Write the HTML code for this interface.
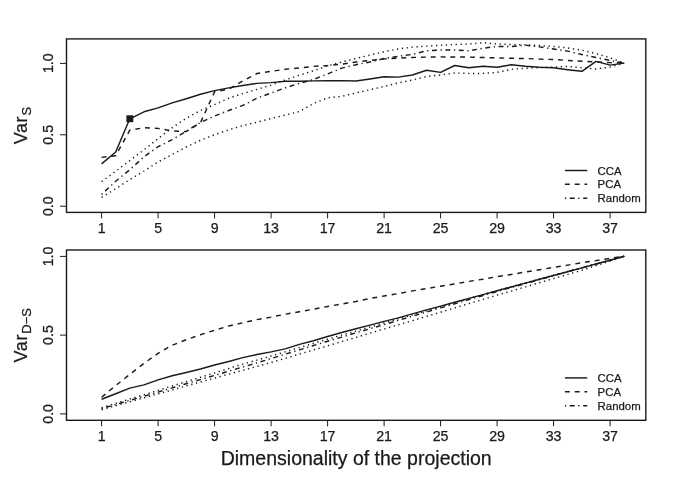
<!DOCTYPE html>
<html lang="en"><head><meta charset="utf-8"><title>Variance vs dimensionality of the projection</title>
<style>html,body{margin:0;padding:0;background:#fff;}body{width:685px;height:484px;overflow:hidden;position:relative;}</style>
</head><body>
<svg width="685" height="484" viewBox="0 0 685 484" style="display:block;position:absolute;left:0;top:0">
<rect width="685" height="484" fill="#fff"/>
<g fill="none" stroke="#1a1a1a" stroke-linejoin="round">
<path d="M101.6,181.7 L115.7,171.3 L129.8,160.6 L144.0,149.8 L158.1,138.6 L172.2,127.6 L186.3,118.2 L200.5,110.5 L214.6,104.6 L228.7,98.2 L242.8,93.6 L257.0,89.4 L271.1,85.1 L285.2,80.0 L299.4,75.2 L313.5,70.8 L327.6,65.8 L341.7,62.0 L355.9,58.6 L370.0,55.0 L384.1,51.7 L398.2,49.0 L412.4,47.1 L426.5,46.1 L440.6,45.2 L454.7,44.5 L468.9,44.0 L483.0,42.8 L497.1,44.0 L511.2,44.5 L525.4,44.9 L539.5,45.5 L553.6,46.5 L567.7,47.9 L581.9,50.2 L596.0,53.7 L610.1,57.8 L624.2,63.1" stroke-width="1.45" stroke-dasharray="1.3,3.6"/>
<path d="M101.6,197.4 L115.7,188.7 L129.8,179.6 L144.0,171.0 L158.1,162.0 L172.2,154.5 L186.3,147.0 L200.5,140.3 L214.6,134.7 L228.7,129.9 L242.8,125.6 L257.0,122.2 L271.1,118.5 L285.2,115.1 L299.4,111.5 L313.5,103.5 L327.6,97.8 L341.7,96.4 L355.9,92.9 L370.0,89.7 L384.1,86.5 L398.2,82.9 L412.4,80.0 L426.5,76.5 L440.6,75.0 L454.7,73.0 L468.9,73.4 L483.0,73.4 L497.1,72.4 L511.2,69.3 L525.4,68.2 L539.5,67.6 L553.6,67.2 L567.7,66.4 L581.9,67.8 L596.0,69.0 L610.1,67.1 L624.2,63.1" stroke-width="1.45" stroke-dasharray="1.3,3.6"/>
<path d="M101.6,194.5 L115.7,181.2 L129.8,169.7 L144.0,156.8 L158.1,146.7 L172.2,139.7 L186.3,131.2 L200.5,122.5 L214.6,116.0 L228.7,110.5 L242.8,105.4 L257.0,98.2 L271.1,93.0 L285.2,87.9 L299.4,83.3 L313.5,79.5 L327.6,73.9 L341.7,68.1 L355.9,64.7 L370.0,62.0 L384.1,58.5 L398.2,56.4 L412.4,54.4 L426.5,50.7 L440.6,50.0 L454.7,50.0 L468.9,50.9 L483.0,48.2 L497.1,46.5 L511.2,46.5 L525.4,45.1 L539.5,46.9 L553.6,49.0 L567.7,51.1 L581.9,54.5 L596.0,57.5 L610.1,60.5 L624.2,63.1" stroke-width="1.45" stroke-dasharray="1.3,3.6,4.9,3.6"/>
<path d="M101.6,157.4 L115.7,155.7 L129.8,130.2 L144.0,127.7 L158.1,128.4 L172.2,130.9 L186.3,131.5 L200.5,122.6 L214.6,91.7 L228.7,89.2 L242.8,80.9 L257.0,73.5 L271.1,71.4 L285.2,69.3 L299.4,67.9 L313.5,66.4 L327.6,65.5 L341.7,64.1 L355.9,62.0 L370.0,60.4 L384.1,58.9 L398.2,58.1 L412.4,57.5 L426.5,57.1 L440.6,56.9 L454.7,56.9 L468.9,57.1 L483.0,57.5 L497.1,57.9 L511.2,58.3 L525.4,58.5 L539.5,59.1 L553.6,59.5 L567.7,60.4 L581.9,61.3 L596.0,62.0 L610.1,62.6 L624.2,63.1" stroke-width="1.45" stroke-dasharray="4.9,4.9"/>
<path d="M101.6,163.9 L115.7,152.0 L129.8,118.8 L144.0,111.8 L158.1,107.9 L172.2,102.9 L186.3,98.7 L200.5,94.3 L214.6,90.6 L228.7,87.9 L242.8,85.5 L257.0,83.4 L271.1,82.6 L285.2,81.3 L299.4,81.3 L313.5,80.9 L327.6,80.8 L341.7,80.6 L355.9,81.0 L370.0,79.0 L384.1,76.7 L398.2,77.1 L412.4,75.0 L426.5,70.3 L440.6,72.4 L454.7,65.5 L468.9,67.8 L483.0,66.2 L497.1,67.2 L511.2,64.7 L525.4,66.2 L539.5,67.2 L553.6,67.8 L567.7,69.7 L581.9,71.3 L596.0,61.4 L610.1,65.1 L624.2,63.1" stroke-width="1.45"/>
<path d="M101.6,407.7 L115.7,403.4 L129.8,399.0 L144.0,394.7 L158.1,390.4 L172.2,386.0 L186.3,381.6 L200.5,377.3 L214.6,372.9 L228.7,368.5 L242.8,364.1 L257.0,360.1 L271.1,356.0 L285.2,351.9 L299.4,347.6 L313.5,343.4 L327.6,339.3 L341.7,335.1 L355.9,331.1 L370.0,327.0 L384.1,323.0 L398.2,318.9 L412.4,314.9 L426.5,310.8 L440.6,306.8 L454.7,302.7 L468.9,298.6 L483.0,294.6 L497.1,290.6 L511.2,286.7 L525.4,282.9 L539.5,279.0 L553.6,275.1 L567.7,271.3 L581.9,267.6 L596.0,263.8 L610.1,260.1 L624.2,256.3" stroke-width="1.45" stroke-dasharray="1.3,3.6"/>
<path d="M101.6,409.7 L115.7,405.7 L129.8,401.8 L144.0,397.8 L158.1,393.9 L172.2,389.9 L186.3,385.9 L200.5,382.0 L214.6,378.1 L228.7,374.2 L242.8,370.3 L257.0,366.4 L271.1,362.4 L285.2,358.4 L299.4,354.1 L313.5,349.9 L327.6,345.8 L341.7,341.6 L355.9,337.4 L370.0,333.2 L384.1,329.0 L398.2,324.8 L412.4,320.6 L426.5,316.4 L440.6,312.2 L454.7,307.9 L468.9,303.6 L483.0,299.4 L497.1,295.2 L511.2,291.1 L525.4,286.9 L539.5,282.7 L553.6,278.5 L567.7,274.4 L581.9,270.3 L596.0,265.6 L610.1,261.0 L624.2,256.3" stroke-width="1.45" stroke-dasharray="1.3,3.6"/>
<path d="M101.6,408.7 L115.7,404.5 L129.8,400.4 L144.0,396.2 L158.1,392.1 L172.2,387.9 L186.3,383.7 L200.5,379.6 L214.6,375.4 L228.7,371.2 L242.8,367.1 L257.0,362.9 L271.1,358.5 L285.2,354.2 L299.4,349.9 L313.5,345.5 L327.6,341.3 L341.7,337.1 L355.9,332.9 L370.0,328.8 L384.1,324.6 L398.2,320.4 L412.4,316.2 L426.5,312.0 L440.6,307.9 L454.7,303.8 L468.9,299.6 L483.0,295.5 L497.1,291.5 L511.2,287.5 L525.4,283.6 L539.5,279.6 L553.6,275.6 L567.7,271.7 L581.9,267.9 L596.0,264.0 L610.1,260.2 L624.2,256.3" stroke-width="1.45" stroke-dasharray="1.3,3.6,4.9,3.6"/>
<path d="M101.6,397.3 L115.7,385.6 L129.8,374.4 L144.0,363.3 L158.1,353.3 L172.2,345.2 L186.3,339.7 L200.5,334.7 L214.6,330.3 L228.7,326.0 L242.8,322.8 L257.0,319.6 L271.1,317.1 L285.2,314.2 L299.4,311.7 L313.5,309.2 L327.6,306.5 L341.7,304.0 L355.9,301.5 L370.0,298.5 L384.1,296.0 L398.2,293.6 L412.4,290.9 L426.5,288.6 L440.6,286.2 L454.7,283.9 L468.9,281.4 L483.0,279.2 L497.1,276.7 L511.2,274.5 L525.4,272.0 L539.5,269.8 L553.6,267.3 L567.7,265.1 L581.9,262.8 L596.0,260.6 L610.1,258.4 L624.2,256.3" stroke-width="1.45" stroke-dasharray="4.9,4.9"/>
<path d="M101.6,399.3 L115.7,393.8 L129.8,388.1 L144.0,384.9 L158.1,379.9 L172.2,375.7 L186.3,372.5 L200.5,369.0 L214.6,365.0 L228.7,361.5 L242.8,357.6 L257.0,354.5 L271.1,351.9 L285.2,348.9 L299.4,344.4 L313.5,340.7 L327.6,336.5 L341.7,332.5 L355.9,328.8 L370.0,325.1 L384.1,321.4 L398.2,317.9 L412.4,313.9 L426.5,309.9 L440.6,306.1 L454.7,302.2 L468.9,298.4 L483.0,294.6 L497.1,290.8 L511.2,287.0 L525.4,283.1 L539.5,279.3 L553.6,275.5 L567.7,271.7 L581.9,267.9 L596.0,264.0 L610.1,260.2 L624.2,256.3" stroke-width="1.45"/>
</g>
<rect x="126.4" y="115.3" width="6.9" height="6.9" fill="#1a1a1a"/>
<g fill="none" stroke="#1a1a1a" stroke-width="1.4">
<rect x="66.5" y="38.9" width="579.3" height="173.5"/>
<rect x="66.5" y="250.0" width="579.3" height="170.3"/>
<path d="M101.6,212.4 V218.4" stroke-width="1"/>
<path d="M101.6,420.3 V426.3" stroke-width="1"/>
<path d="M158.1,212.4 V218.4" stroke-width="1"/>
<path d="M158.1,420.3 V426.3" stroke-width="1"/>
<path d="M214.6,212.4 V218.4" stroke-width="1"/>
<path d="M214.6,420.3 V426.3" stroke-width="1"/>
<path d="M271.1,212.4 V218.4" stroke-width="1"/>
<path d="M271.1,420.3 V426.3" stroke-width="1"/>
<path d="M327.6,212.4 V218.4" stroke-width="1"/>
<path d="M327.6,420.3 V426.3" stroke-width="1"/>
<path d="M384.1,212.4 V218.4" stroke-width="1"/>
<path d="M384.1,420.3 V426.3" stroke-width="1"/>
<path d="M440.6,212.4 V218.4" stroke-width="1"/>
<path d="M440.6,420.3 V426.3" stroke-width="1"/>
<path d="M497.1,212.4 V218.4" stroke-width="1"/>
<path d="M497.1,420.3 V426.3" stroke-width="1"/>
<path d="M553.6,212.4 V218.4" stroke-width="1"/>
<path d="M553.6,420.3 V426.3" stroke-width="1"/>
<path d="M610.1,212.4 V218.4" stroke-width="1"/>
<path d="M610.1,420.3 V426.3" stroke-width="1"/>
<path d="M66.5,63.4 H60.0" stroke-width="1"/>
<path d="M66.5,134.8 H60.0" stroke-width="1"/>
<path d="M66.5,206.2 H60.0" stroke-width="1"/>
<path d="M66.5,256.4 H60.0" stroke-width="1"/>
<path d="M66.5,335.1 H60.0" stroke-width="1"/>
<path d="M66.5,413.9 H60.0" stroke-width="1"/>
</g>
<g fill="none" stroke="#1a1a1a">
<path d="M564.9,170.5 H587.2" stroke-width="1.45"/>
<path d="M564.9,184.2 H587.2" stroke-width="1.45" stroke-dasharray="4.9,4.9"/>
<path d="M564.9,198.2 H587.2" stroke-width="1.45" stroke-dasharray="1.3,3.6,4.9,3.6"/>
<path d="M564.9,377.9 H587.2" stroke-width="1.45"/>
<path d="M564.9,391.8 H587.2" stroke-width="1.45" stroke-dasharray="4.9,4.9"/>
<path d="M564.9,405.7 H587.2" stroke-width="1.45" stroke-dasharray="1.3,3.6,4.9,3.6"/>
</g>
<g fill="#1a1a1a" stroke="#1a1a1a" stroke-width="0.25" font-family="'Liberation Sans', Arial, Helvetica, sans-serif">
<text x="101.6" y="233.2" font-size="14.2" text-anchor="middle">1</text>
<text x="101.6" y="440.6" font-size="14.2" text-anchor="middle">1</text>
<text x="158.1" y="233.2" font-size="14.2" text-anchor="middle">5</text>
<text x="158.1" y="440.6" font-size="14.2" text-anchor="middle">5</text>
<text x="214.6" y="233.2" font-size="14.2" text-anchor="middle">9</text>
<text x="214.6" y="440.6" font-size="14.2" text-anchor="middle">9</text>
<text x="271.1" y="233.2" font-size="14.2" text-anchor="middle">13</text>
<text x="271.1" y="440.6" font-size="14.2" text-anchor="middle">13</text>
<text x="327.6" y="233.2" font-size="14.2" text-anchor="middle">17</text>
<text x="327.6" y="440.6" font-size="14.2" text-anchor="middle">17</text>
<text x="384.1" y="233.2" font-size="14.2" text-anchor="middle">21</text>
<text x="384.1" y="440.6" font-size="14.2" text-anchor="middle">21</text>
<text x="440.6" y="233.2" font-size="14.2" text-anchor="middle">25</text>
<text x="440.6" y="440.6" font-size="14.2" text-anchor="middle">25</text>
<text x="497.1" y="233.2" font-size="14.2" text-anchor="middle">29</text>
<text x="497.1" y="440.6" font-size="14.2" text-anchor="middle">29</text>
<text x="553.6" y="233.2" font-size="14.2" text-anchor="middle">33</text>
<text x="553.6" y="440.6" font-size="14.2" text-anchor="middle">33</text>
<text x="610.1" y="233.2" font-size="14.2" text-anchor="middle">37</text>
<text x="610.1" y="440.6" font-size="14.2" text-anchor="middle">37</text>
<text transform="translate(52.9,63.2) rotate(-90) scale(1,1.09)" font-size="14.2" text-anchor="middle">1.0</text>
<text transform="translate(52.9,134.8) rotate(-90) scale(1,1.09)" font-size="14.2" text-anchor="middle">0.5</text>
<text transform="translate(52.9,206.2) rotate(-90) scale(1,1.09)" font-size="14.2" text-anchor="middle">0.0</text>
<text transform="translate(52.9,256.5) rotate(-90) scale(1,1.09)" font-size="14.2" text-anchor="middle">1.0</text>
<text transform="translate(52.9,335.1) rotate(-90) scale(1,1.09)" font-size="14.2" text-anchor="middle">0.5</text>
<text transform="translate(52.9,413.9) rotate(-90) scale(1,1.09)" font-size="14.2" text-anchor="middle">0.0</text>
<text x="597.6" y="174.5" font-size="11.4">CCA</text>
<text x="597.6" y="188.2" font-size="11.4">PCA</text>
<text x="597.6" y="202.2" font-size="11.4">Random</text>
<text x="597.6" y="381.8" font-size="11.4">CCA</text>
<text x="597.6" y="395.7" font-size="11.4">PCA</text>
<text x="597.6" y="409.6" font-size="11.4">Random</text>
<text x="356.2" y="464.8" font-size="19.5" text-anchor="middle">Dimensionality of the projection</text>
<text transform="translate(27.1,144.3) rotate(-90)" font-size="18.0" letter-spacing="0.6">Var</text>
<text transform="translate(31.0,115.6) rotate(-90)" font-size="13.0">S</text>
<text transform="translate(27.1,362.4) rotate(-90)" font-size="18.0" letter-spacing="0.6">Var</text>
<text transform="translate(31.0,333.7) rotate(-90)" font-size="13.0">D−S</text>
</g>
</svg>
</body></html>
